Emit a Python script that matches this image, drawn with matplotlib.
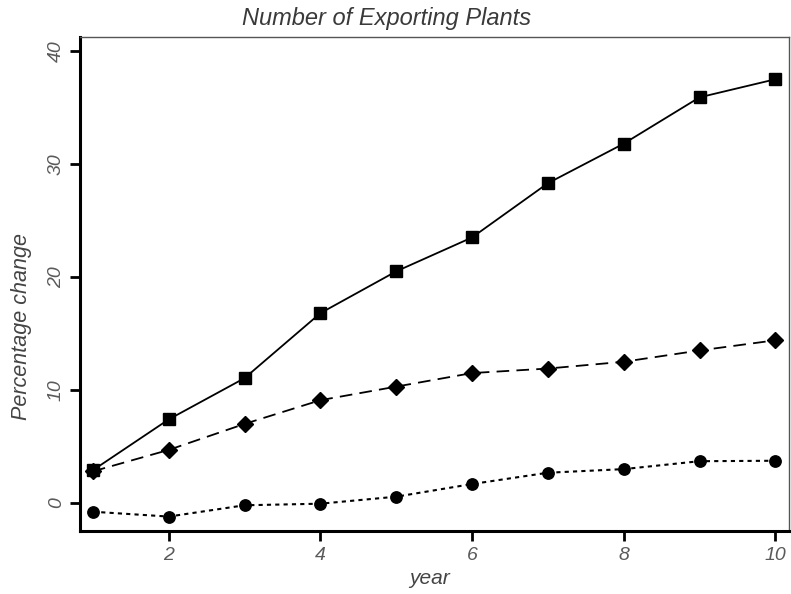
import matplotlib
matplotlib.use("Agg")
import matplotlib.pyplot as plt

years = [1, 2, 3, 4, 5, 6, 7, 8, 9, 10]
squares = [2.9, 7.4, 11.05, 16.8, 20.5, 23.5, 28.3, 31.8, 35.9, 37.5]
diamonds = [2.8, 4.7, 7.0, 9.1, 10.3, 11.5, 11.9, 12.5, 13.5, 14.4]
circles = [-0.77, -1.2, -0.2, -0.06, 0.56, 1.68, 2.68, 3.0, 3.7, 3.74]
xticks = [2, 4, 6, 8, 10]
yticks = [0, 10, 20, 30, 40]

plt.rcParams['font.family'] = ['Liberation Sans', 'DejaVu Sans']
fig = plt.figure(figsize=(7.91, 5.94), dpi=100)
ax = fig.add_axes([80/791, (594-530.7)/594, (789-80)/791, (530.7-37)/594])

ax.plot(years, squares, color='black', lw=1.3, ls='-', marker='s', ms=8.3)
ax.plot(years, diamonds, color='black', lw=1.3, ls=(0, (7, 4)), marker='D', ms=8.3)
ax.plot(years, circles, color='black', lw=1.5, ls=(0, (2, 2)), marker='o', ms=8.2)

ax.set_xlim(0.83, 10.18)
ax.set_ylim(-2.45, 41.24)
ax.set_xticks(xticks)
ax.set_yticks(yticks)
lab_color = '#5a5a5a'
ax.set_xticklabels([str(t) for t in xticks], fontsize=14, style='italic', color=lab_color)
ax.set_yticklabels([str(t) for t in yticks], fontsize=14, style='italic', color=lab_color,
                   rotation=90, va='center')
ax.tick_params(axis='y', direction='out', length=7, width=2, color='black', pad=4)
ax.tick_params(axis='x', direction='out', length=7, width=2, color='black', pad=5)
for s in ['left', 'bottom']:
    ax.spines[s].set_linewidth(2.2)
    ax.spines[s].set_color('black')
for s in ['top', 'right']:
    ax.spines[s].set_linewidth(1.0)
    ax.spines[s].set_color('#555555')

fig.text(387/791, 1 - 18/594, 'Number of Exporting Plants', ha='center', va='center',
         fontsize=17, style='italic', color='#3a3a3a')
fig.text(22/791, 1 - 327/594, 'Percentage change', ha='center', va='center', rotation=90,
         fontsize=15.5, style='italic', color='#444444')
fig.text(430/791, 1 - 578/594, 'year', ha='center', va='center',
         fontsize=15, style='italic', color='#444444')

fig.savefig('out.png', dpi=100)
